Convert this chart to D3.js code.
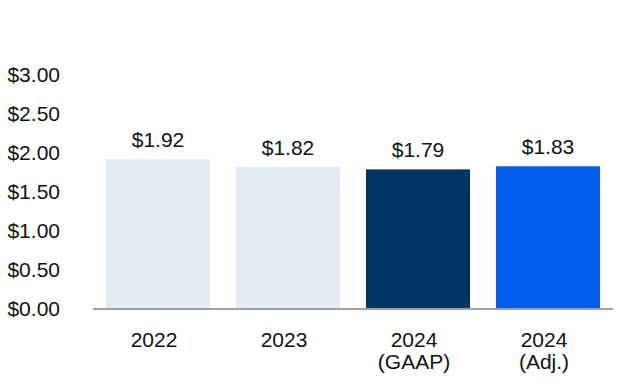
<!DOCTYPE html>
<html>
<head>
<meta charset="utf-8">
<script src="https://cdn.jsdelivr.net/npm/d3@7"></script>
<style>
  html, body { margin: 0; padding: 0; background: #ffffff; }
  svg { display: block; font-family: "Liberation Sans", Arial, sans-serif; }
</style>
</head>
<body>
<svg id="chart" width="624" height="384"></svg>
<script>
const categories = ["2022", "2023", "2024\n(GAAP)", "2024\n(Adj.)"];
const values = [1.92, 1.82, 1.79, 1.83];
const barColors = ["#e6ecf6", "#e6ecf6", "#003462", "#005eeb"];
const yTicks = [0, 0.5, 1.0, 1.5, 2.0, 2.5, 3.0];

const svg = d3.select("#chart");
const x = d3.scaleBand().domain(categories).range([93, 613]).paddingInner(0.2).paddingOuter(0.1);
const y = d3.scaleLinear().domain([0, 3]).range([309, 75]);
const fs = 21;

// Y axis labels
svg.append("g").selectAll("text").data(yTicks).join("text")
  .attr("x", 60)
  .attr("y", d => y(d))
  .attr("dy", "0.35em")
  .attr("text-anchor", "end")
  .attr("font-size", fs)
  .attr("fill", "#111")
  .text(d => "$" + d3.format(".2f")(d));

// Bars
svg.append("g").selectAll("rect").data(values).join("rect")
  .attr("x", (d, i) => x(categories[i]))
  .attr("width", x.bandwidth())
  .attr("y", d => y(d))
  .attr("height", d => y(0) - y(d))
  .attr("fill", (d, i) => barColors[i]);

// Baseline
svg.append("line")
  .attr("x1", 93).attr("x2", 613)
  .attr("y1", y(0)).attr("y2", y(0))
  .attr("stroke", "#a0a0a0").attr("stroke-width", 2);

// Value labels
svg.append("g").selectAll("text").data(values).join("text")
  .attr("x", (d, i) => x(categories[i]) + x.bandwidth() / 2)
  .attr("y", d => y(d) - 12)
  .attr("text-anchor", "middle")
  .attr("font-size", fs)
  .attr("fill", "#111")
  .text(d => "$" + d3.format(".2f")(d));

// Category labels
const cat = svg.append("g").selectAll("text").data(categories).join("text")
  .attr("text-anchor", "middle")
  .attr("font-size", fs)
  .attr("fill", "#111");
cat.each(function(d) {
  const lines = d.split("\n");
  const cx = x(d) + x.bandwidth() / 2 - 4;
  d3.select(this).selectAll("tspan").data(lines).join("tspan")
    .attr("x", cx)
    .attr("y", (l, j) => 347 + j * 22)
    .text(l => l);
});
</script>
</body>
</html>
